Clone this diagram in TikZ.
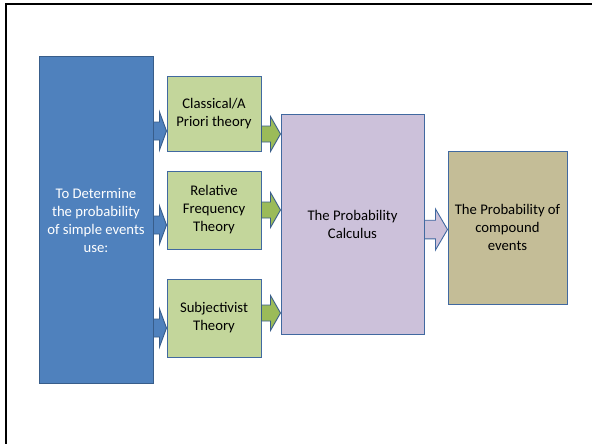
\documentclass[tikz,border=0pt]{standalone}
\usepackage{fontspec}
\setmainfont{Carlito}
\usetikzlibrary{calc}
\definecolor{bluefill}{RGB}{79,129,189}
\definecolor{blueline}{RGB}{56,93,138}
\definecolor{greenfill}{RGB}{195,214,155}
\definecolor{greenarrow}{RGB}{155,187,89}
\definecolor{purplefill}{RGB}{204,193,218}
\definecolor{olivefill}{RGB}{196,189,151}
\definecolor{boxline}{RGB}{65,105,160}
% style, start, end, shaft half-width, head half-width, head length
\newcommand{\blockarrow}[6]{\path[#1] let \p1=(#2), \p2=(#3) in
  (\x1,\y1+#4) -- (\x2-#6,\y1+#4) -- (\x2-#6,\y1+#5) -- (\x2,\y1) --
  (\x2-#6,\y1-#5) -- (\x2-#6,\y1-#4) -- (\x1,\y1-#4) -- cycle;}
\begin{document}
\begin{tikzpicture}[x=1pt,y=-1pt,
  font=\fontsize{14.7}{18}\selectfont,
  box/.style={draw=boxline, line width=1pt, inner sep=0pt, align=center, text=black},
  bluearrow/.style={fill=bluefill, draw=blueline, line width=0.9pt, line join=miter},
  greenarrowstyle/.style={fill=greenarrow, draw=blueline, line width=0.9pt, line join=miter},
  purplearrow/.style={fill=purplefill, draw=boxline, line width=0.9pt, line join=miter}]
\useasboundingbox (0,0) rectangle (592,444);
\fill[white] (0,0) rectangle (592,444);
\draw[line width=1.8pt, line join=miter] (5.7,446) -- (5.7,4) -- (594,4);

\node[box, fill=bluefill, draw=blueline, text=white, minimum width=114pt, minimum height=326pt] (det) at (96,220)
  {To Determine\\the probability\\of simple events\\use:};
\node[box, fill=greenfill, minimum width=94pt, minimum height=74pt] (cl) at (214,114)
  {Classical/A\\Priori theory};
\node[box, fill=greenfill, minimum width=94pt, minimum height=78pt] (rf) at (214,210)
  {Relative\\Frequency\\Theory};
\node[box, fill=greenfill, minimum width=94pt, minimum height=78pt] (sj) at (214,318)
  {Subjectivist\\Theory};
\node[box, fill=purplefill, minimum width=143pt, minimum height=220pt] (pc) at (352.5,224)
  {The Probability\\Calculus};
\node[box, fill=olivefill, minimum width=119pt, minimum height=153pt] (ce) at (507.5,227.5)
  {The Probability of\\compound\\events};

\coordinate (ya1) at (0,131);
\coordinate (ya2) at (0,225);
\coordinate (ya3) at (0,328);
\coordinate (yg1) at (0,134);
\coordinate (yg2) at (0,210);
\coordinate (yg3) at (0,313);
\coordinate (yp) at (0,229.5);

\blockarrow{bluearrow}{det.east |- ya1}{cl.west |- ya1}{9pt}{19pt}{7pt}
\blockarrow{bluearrow}{det.east |- ya2}{rf.west |- ya2}{9pt}{19pt}{7pt}
\blockarrow{bluearrow}{det.east |- ya3}{sj.west |- ya3}{9pt}{19pt}{7pt}
\blockarrow{greenarrowstyle}{cl.east |- yg1}{pc.west |- yg1}{8pt}{17.5pt}{10pt}
\blockarrow{greenarrowstyle}{rf.east |- yg2}{pc.west |- yg2}{8pt}{17.5pt}{10pt}
\blockarrow{greenarrowstyle}{sj.east |- yg3}{pc.west |- yg3}{8pt}{17.5pt}{10pt}
\blockarrow{purplearrow}{pc.east |- yp}{ce.west |- yp}{9.3pt}{20.5pt}{12pt}
\end{tikzpicture}
\end{document}
